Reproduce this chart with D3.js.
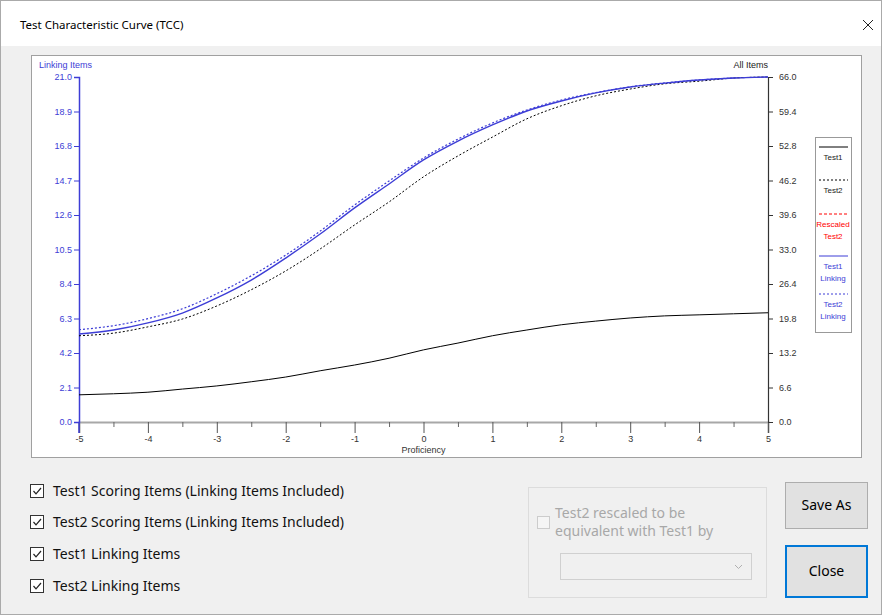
<!DOCTYPE html>
<html>
<head>
<meta charset="utf-8">
<script src="https://cdn.jsdelivr.net/npm/d3@7"></script>
<style>
  html, body { margin: 0; padding: 0; background: #f0f0f0; }
  svg { display: block; }
  .ui { font-family: "Noto Sans", "Open Sans", sans-serif; }
  .chart text { font-family: "Liberation Sans", Arial, sans-serif; }
</style>
</head>
<body>
<svg id="chart" width="882" height="615"></svg>
<script>
// Proficiency points (theta)
const proficiency = [-5, -4.5, -4, -3.5, -3, -2.5, -2, -1.5, -1, -0.5, 0, 0.5, 1, 1.5, 2, 2.5, 3, 3.5, 4, 4.5, 5];

// Expected scores
const test1 = [5.2, 5.4, 5.7, 6.3, 6.9, 7.7, 8.6, 9.8, 10.9, 12.2, 13.8, 15.1, 16.5, 17.6, 18.6, 19.3, 19.9, 20.3, 20.5, 20.7, 20.9];
const test2 = [16.5, 17.0, 18.2, 19.7, 22.2, 25.3, 28.9, 33.1, 37.7, 42.1, 46.9, 50.9, 54.5, 58.0, 60.5, 62.4, 63.7, 64.7, 65.2, 65.8, 66.0];
const test1Linking = [5.36, 5.60, 6.03, 6.63, 7.55, 8.64, 9.98, 11.44, 13.03, 14.49, 15.95, 17.10, 18.08, 18.93, 19.54, 20.03, 20.39, 20.63, 20.82, 20.94, 21.0];
const test2Linking = [5.62, 5.86, 6.29, 6.89, 7.81, 8.90, 10.16, 11.62, 13.21, 14.67, 16.07, 17.22, 18.20, 18.99, 19.60, 20.05, 20.40, 20.64, 20.82, 20.94, 21.0];

// Axis tick labels
const xTicks = [-5, -4, -3, -2, -1, 0, 1, 2, 3, 4, 5];
const xMinorTicks = [-4.5, -3.5, -2.5, -1.5, -0.5, 0.5, 1.5, 2.5, 3.5, 4.5];
const leftTicks = [0, 2.1, 4.2, 6.3, 8.4, 10.5, 12.6, 14.7, 16.8, 18.9, 21.0];
const rightTicks = [0, 6.6, 13.2, 19.8, 26.4, 33.0, 39.6, 46.2, 52.8, 59.4, 66.0];

// Legend entries and bottom options
const legendItems = [
  { label: ["Test1"], color: "#000", dash: null },
  { label: ["Test2"], color: "#000", dash: "2,2" },
  { label: ["Rescaled", "Test2"], color: "#ff0000", dash: "3,2" },
  { label: ["Test1", "Linking"], color: "#3d3dd6", dash: null },
  { label: ["Test2", "Linking"], color: "#3d3dd6", dash: "2,2" }
];
const checkOptions = [
  "Test1 Scoring Items (Linking Items Included)",
  "Test2 Scoring Items (Linking Items Included)",
  "Test1 Linking Items",
  "Test2 Linking Items"
];

const blue = "#3d3dd6";
const svg = d3.select("#chart");

// Window title bar
svg.append("rect").attr("x", 0).attr("y", 0).attr("width", 882).attr("height", 46).attr("fill", "#fff");
svg.append("rect").attr("x", 0.5).attr("y", 0.5).attr("width", 881).attr("height", 614)
  .attr("fill", "none").attr("stroke", "#aaa");
svg.append("text").attr("class", "ui").attr("x", 20).attr("y", 29)
  .attr("font-size", 11.5).attr("fill", "#000").text("Test Characteristic Curve (TCC)");
svg.append("path").attr("d", "M863,20 L873,30 M873,20 L863,30")
  .attr("stroke", "#222").attr("stroke-width", 1);

// Chart panel
const chart = svg.append("g").attr("class", "chart");
chart.append("rect").attr("x", 31.5).attr("y", 55.5).attr("width", 830).attr("height", 402)
  .attr("fill", "#fff").attr("stroke", "#a0a0a0");

// Scales
const xScale = d3.scaleLinear().domain([-5, 5]).range([79, 768]);
const yLeft = d3.scaleLinear().domain([0, 21]).range([422, 77]);
const yRight = d3.scaleLinear().domain([0, 66]).range([422, 77]);

// X axis
const xAxis = chart.append("g").attr("transform", "translate(0,422)")
  .call(d3.axisBottom(xScale).tickValues(xTicks).tickSize(11).tickPadding(3).tickFormat((d) => String(d)));
xAxis.select(".domain").attr("stroke", "#a8a8a8").attr("stroke-width", 2);
xAxis.selectAll(".tick line").attr("stroke", "#555");
xAxis.selectAll("text").attr("font-size", 9).attr("fill", "#333");
const xMinor = chart.append("g").attr("transform", "translate(0,422)")
  .call(d3.axisBottom(xScale).tickValues(xMinorTicks).tickSize(5).tickFormat(""));
xMinor.select(".domain").remove();
xMinor.selectAll(".tick line").attr("stroke", "#666");
chart.append("text").attr("x", xScale(0)).attr("y", 453).attr("text-anchor", "middle")
  .attr("font-size", 9).attr("fill", "#333").text("Proficiency");

// Left axis (linking items)
const leftAxis = chart.append("g").attr("transform", "translate(79,0)")
  .call(d3.axisLeft(yLeft).tickValues(leftTicks).tickSize(5).tickPadding(2).tickFormat(d3.format(".1f")));
leftAxis.select(".domain").attr("stroke", blue).attr("stroke-width", 1.5);
leftAxis.selectAll(".tick line").attr("stroke", blue);
leftAxis.selectAll("text").attr("font-size", 9).attr("fill", blue);
chart.append("line").attr("x1", 79).attr("x2", 79).attr("y1", 422).attr("y2", 433)
  .attr("stroke", blue).attr("stroke-width", 1.5);
chart.append("text").attr("x", 39).attr("y", 68).attr("font-size", 9).attr("fill", blue).text("Linking Items");

// Right axis (all items)
const rightAxis = chart.append("g").attr("transform", "translate(768,0)")
  .call(d3.axisRight(yRight).tickValues(rightTicks).tickSize(5).tickPadding(6).tickFormat(d3.format(".1f")));
rightAxis.select(".domain").attr("stroke", "#333").attr("stroke-width", 1.2);
rightAxis.selectAll(".tick line").attr("stroke", "#333");
rightAxis.selectAll("text").attr("font-size", 9).attr("fill", "#333");
chart.append("text").attr("x", 768).attr("y", 68).attr("text-anchor", "end")
  .attr("font-size", 9).attr("fill", "#222").text("All Items");

// Curves
function curve(values, yScale) {
  return d3.line()
    .x((d, i) => xScale(proficiency[i]))
    .y((d) => yScale(d))
    .curve(d3.curveMonotoneX)(values);
}
chart.append("path").attr("d", curve(test1, yRight)).attr("fill", "none").attr("stroke", "#000").attr("stroke-width", 1);
chart.append("path").attr("d", curve(test2, yRight)).attr("fill", "none").attr("stroke", "#000")
  .attr("stroke-width", 1).attr("stroke-dasharray", "2,2");
chart.append("path").attr("d", curve(test1Linking, yLeft)).attr("fill", "none").attr("stroke", blue).attr("stroke-width", 1.4);
chart.append("path").attr("d", curve(test2Linking, yLeft)).attr("fill", "none").attr("stroke", blue)
  .attr("stroke-width", 1.2).attr("stroke-dasharray", "2,2");

// Legend
const legend = chart.append("g");
legend.append("rect").attr("x", 815.5).attr("y", 137.5).attr("width", 36).attr("height", 195)
  .attr("fill", "#fff").attr("stroke", "#999");
const legendTop = [147, 180, 214, 256, 294];
legendItems.forEach(function (item, i) {
  const y0 = legendTop[i];
  legend.append("line").attr("x1", 819).attr("x2", 848).attr("y1", y0).attr("y2", y0)
    .attr("stroke", item.color).attr("stroke-width", 1)
    .attr("stroke-dasharray", item.dash);
  item.label.forEach(function (t, j) {
    legend.append("text").attr("x", 833).attr("y", y0 + 13 + j * 12).attr("text-anchor", "middle")
      .attr("font-size", 8).attr("fill", item.color === "#000" ? "#222" : item.color).text(t);
  });
});

// Checkboxes
const ui = svg.append("g").attr("class", "ui");
const checkY = [491, 522, 554, 586];
checkOptions.forEach(function (label, i) {
  const cy = checkY[i];
  ui.append("rect").attr("x", 30.5).attr("y", cy - 6.5).attr("width", 13).attr("height", 13)
    .attr("fill", "#fff").attr("stroke", "#333");
  ui.append("path").attr("d", `M33.5,${cy} L36,${cy + 2.8} L41,${cy - 3}`)
    .attr("fill", "none").attr("stroke", "#222").attr("stroke-width", 1.2);
  ui.append("text").attr("x", 53).attr("y", cy + 5).attr("font-size", 14).attr("fill", "#111").text(label);
});

// Rescale group box (disabled)
ui.append("rect").attr("x", 528.5).attr("y", 487.5).attr("width", 238).attr("height", 110)
  .attr("fill", "none").attr("stroke", "#dcdcdc");
ui.append("rect").attr("x", 537.5).attr("y", 516.5).attr("width", 12).attr("height", 12)
  .attr("fill", "#f5f5f5").attr("stroke", "#cccccc");
ui.append("text").attr("x", 555).attr("y", 518).attr("font-size", 14).attr("fill", "#a8a8a8").text("Test2 rescaled to be");
ui.append("text").attr("x", 555).attr("y", 536).attr("font-size", 14).attr("fill", "#a8a8a8").text("equivalent with Test1 by");
ui.append("rect").attr("x", 560.5).attr("y", 553.5).attr("width", 191).attr("height", 26)
  .attr("fill", "#f0f0f0").attr("stroke", "#d0d0d0");
ui.append("path").attr("d", "M735,565 L738.5,568.5 L742,565").attr("fill", "none").attr("stroke", "#b0b0b0");

// Buttons
ui.append("rect").attr("x", 785.5).attr("y", 482.5).attr("width", 82).attr("height", 46)
  .attr("fill", "#e1e1e1").attr("stroke", "#adadad");
ui.append("text").attr("x", 826.5).attr("y", 510).attr("text-anchor", "middle").attr("font-size", 14).text("Save As");
ui.append("rect").attr("x", 786).attr("y", 546).attr("width", 81).attr("height", 51)
  .attr("fill", "#e1e1e1").attr("stroke", "#0078d7").attr("stroke-width", 2);
ui.append("text").attr("x", 826.5).attr("y", 576).attr("text-anchor", "middle").attr("font-size", 14).text("Close");
</script>
</body>
</html>
